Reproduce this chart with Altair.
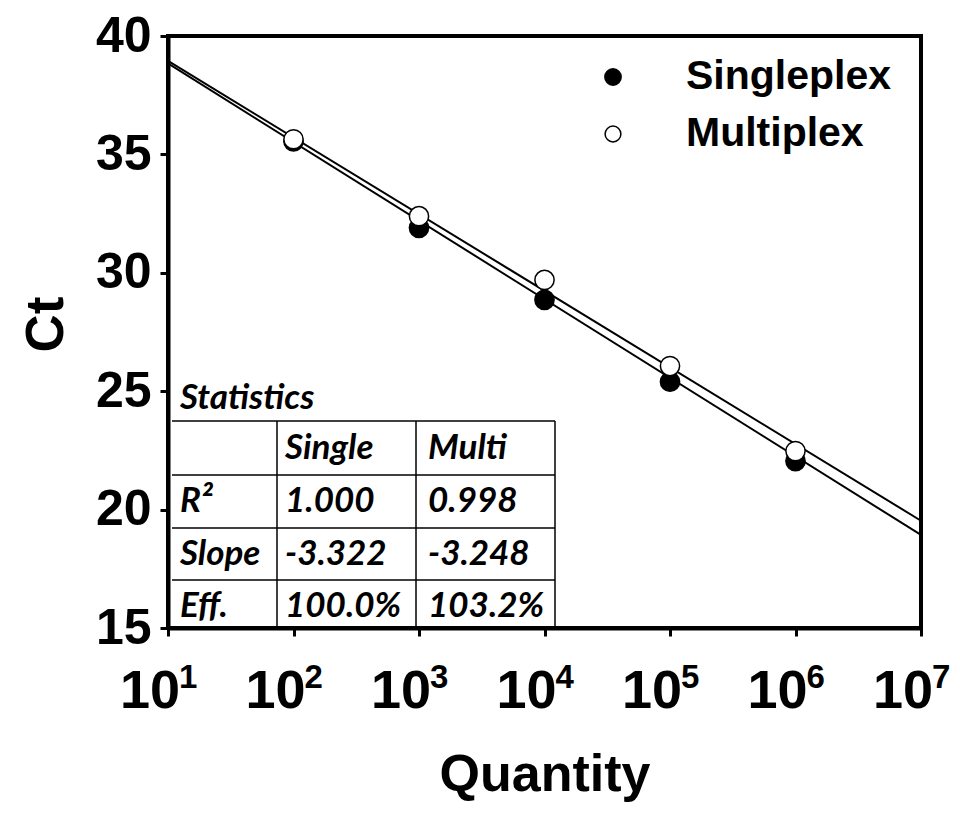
import altair as alt
import pandas as pd

# ---------------- data ----------------
quantity = [1e2, 1e3, 1e4, 1e5, 1e6]
ct_single = [35.55, 31.90, 28.86, 25.40, 22.05]
ct_multi = [35.64, 32.39, 29.70, 26.06, 22.47]

fit_quantity = [1e1, 1e7]
fit_single = [38.84, 18.93]
fit_multi = [38.95, 19.53]

x_ticks = [1e1, 1e2, 1e3, 1e4, 1e5, 1e6, 1e7]
x_exponents = ["1", "2", "3", "4", "5", "6", "7"]
y_ticks = [15, 20, 25, 30, 35, 40]

legend_labels = ["Singleplex", "Multiplex"]

stats_title = "Statistics"
stats_columns = ["", "Single", "Multi"]
stats_rows = ["R²", "Slope", "Eff."]
stats_single = ["1.000", "-3.322", "100.0%"]
stats_multi = ["0.998", "-3.248", "103.2%"]

# ---------------- layout ----------------
W, H = 753, 592
FONT = "Liberation Sans"
TFONT = "Lato"

col_x = [12, 117, 260]
row_y = [362, 412, 465, 518, 570]
hline_y = [385, 439, 492, 544]
vline_x = [109, 248, 387]
table_left, table_right, table_bottom = 4, 387, 592

x_scale = alt.Scale(type="log", domain=[10, 1e7], nice=False)
y_scale = alt.Scale(domain=[15, 40], nice=False, zero=False)

x_axis = alt.Axis(values=x_ticks, labels=False, title="Quantity", titleFont=FONT,
                  titleFontSize=52, titleFontWeight="bold", titleColor="black",
                  titleX=W / 2, titleY=146, titleBaseline="middle", titleAlign="center",
                  tickSize=8, tickWidth=3, tickColor="black", domainColor="black",
                  domainWidth=4, grid=False)
y_axis = alt.Axis(values=y_ticks, title="Ct", labelFont=FONT, labelFontSize=50,
                  labelFontWeight="bold", labelColor="black", labelPadding=9,
                  titleFont=FONT, titleFontSize=53, titleFontWeight="bold",
                  titleColor="black", titleX=-122, titleY=H / 2 - 8, titleAngle=-90,
                  titleAlign="center", titleBaseline="middle",
                  tickSize=8, tickWidth=3, tickColor="black", domainColor="black",
                  domainWidth=4, grid=False)

# fit lines
fit_df = pd.DataFrame({
    "q": fit_quantity * 2,
    "ct": fit_single + fit_multi,
    "series": ["Single"] * 2 + ["Multi"] * 2,
})
lines = alt.Chart(fit_df).mark_line(color="black", strokeWidth=2).encode(
    x=alt.X("q:Q", scale=x_scale, axis=x_axis),
    y=alt.Y("ct:Q", scale=y_scale, axis=y_axis),
    detail="series:N",
)

single_df = pd.DataFrame({"q": quantity, "ct": ct_single})
multi_df = pd.DataFrame({"q": quantity, "ct": ct_multi})

pts_single = alt.Chart(single_df).mark_point(
    shape="circle", filled=True, fill="black", stroke="black", strokeWidth=1.5,
    size=370, opacity=1).encode(
    x=alt.X("q:Q", scale=x_scale), y=alt.Y("ct:Q", scale=y_scale))
pts_multi = alt.Chart(multi_df).mark_point(
    shape="circle", filled=True, fill="white", stroke="black", strokeWidth=1.5,
    size=370, opacity=1).encode(
    x=alt.X("q:Q", scale=x_scale), y=alt.Y("ct:Q", scale=y_scale))

# x tick labels 10^n
xlab_df = pd.DataFrame({"q": x_ticks, "base": ["10"] * len(x_ticks), "exp": x_exponents})
xlab_base = alt.Chart(xlab_df).mark_text(
    font=FONT, fontSize=54, fontWeight="bold", color="black",
    align="center", baseline="middle", dx=-18).encode(
    x=alt.X("q:Q", scale=x_scale), y=alt.value(H + 64), text="base:N")
xlab_exp = alt.Chart(xlab_df).mark_text(
    font=FONT, fontSize=33, fontWeight="bold", color="black",
    align="left", baseline="middle", dx=11).encode(
    x=alt.X("q:Q", scale=x_scale), y=alt.value(H + 50), text="exp:N")

# legend
leg1 = pd.DataFrame({"label": [legend_labels[0]]})
leg2 = pd.DataFrame({"label": [legend_labels[1]]})
leg_pt1 = alt.Chart(leg1).mark_point(shape="circle", filled=True, fill="black",
                                     stroke="black", size=250, opacity=1).encode(
    x=alt.value(445), y=alt.value(41))
leg_pt2 = alt.Chart(leg2).mark_point(shape="circle", filled=True, fill="white",
                                     stroke="black", strokeWidth=1.5, size=250,
                                     opacity=1).encode(
    x=alt.value(445), y=alt.value(98))
leg_tx1 = alt.Chart(leg1).mark_text(font=FONT, fontSize=41, fontWeight="bold",
                                    color="black", align="left",
                                    baseline="middle").encode(
    x=alt.value(518), y=alt.value(41), text="label:N")
leg_tx2 = alt.Chart(leg2).mark_text(font=FONT, fontSize=41, fontWeight="bold",
                                    color="black", align="left",
                                    baseline="middle").encode(
    x=alt.value(518), y=alt.value(98), text="label:N")

main = alt.layer(lines, pts_single, pts_multi, xlab_base, xlab_exp,
                 leg_pt1, leg_pt2, leg_tx1, leg_tx2)

# statistics table
cells = [{"tx": col_x[0], "ty": row_y[0], "t": stats_title}]
for c in range(3):
    cells.append({"tx": col_x[c], "ty": row_y[1], "t": stats_columns[c]})
for r in range(3):
    cells.append({"tx": col_x[0], "ty": row_y[2 + r], "t": stats_rows[r]})
    cells.append({"tx": col_x[1], "ty": row_y[2 + r], "t": stats_single[r]})
    cells.append({"tx": col_x[2], "ty": row_y[2 + r], "t": stats_multi[r]})
cells_df = pd.DataFrame(cells)

table_text = alt.Chart(cells_df).mark_text(
    font=TFONT, fontSize=35, fontWeight="bold", fontStyle="italic", color="black",
    align="left", baseline="middle").encode(
    x=alt.X("tx:Q", scale=None, axis=None),
    y=alt.Y("ty:Q", scale=None, axis=None),
    text="t:N")

hl_df = pd.DataFrame({"y": hline_y, "x1": [table_left] * len(hline_y),
                      "x2": [table_right] * len(hline_y)})
hlines = alt.Chart(hl_df).mark_rule(color="black", strokeWidth=1.5).encode(
    x=alt.X("x1:Q", scale=None, axis=None), x2="x2:Q",
    y=alt.Y("y:Q", scale=None, axis=None))
vl_df = pd.DataFrame({"x": vline_x, "y1": [hline_y[0]] * len(vline_x),
                      "y2": [table_bottom] * len(vline_x)})
vlines = alt.Chart(vl_df).mark_rule(color="black", strokeWidth=1.5).encode(
    x=alt.X("x:Q", scale=None, axis=None),
    y=alt.Y("y1:Q", scale=None, axis=None), y2="y2:Q")

table = alt.layer(hlines, vlines, table_text)

chart = alt.layer(main, table).resolve_scale(x="independent", y="independent").properties(
    width=W, height=H,
    autosize=alt.AutoSizeParams(type="none"),
    padding={"left": 160, "top": 28, "right": 30, "bottom": 177},
    background="white",
).configure_view(stroke="black", strokeWidth=4)

chart.save("out.html", embed_options={"renderer": "svg", "actions": False})
